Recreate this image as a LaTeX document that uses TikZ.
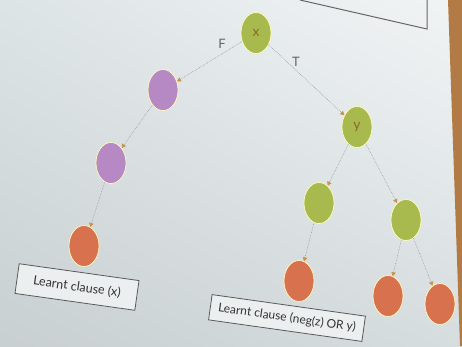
\documentclass[tikz,border=0pt]{standalone}
\usepackage{fontspec}
\setmainfont{Lato}
\usetikzlibrary{shapes.geometric,arrows.meta,shadings}
\definecolor{slidebg}{HTML}{DDE4E6}
\definecolor{wallbrown}{HTML}{B27A45}
\definecolor{decgreen}{HTML}{A8B94E}
\definecolor{decpurple}{HTML}{B688C4}
\definecolor{conflict}{HTML}{D8714E}
\definecolor{tipbrown}{HTML}{C8944A}
\definecolor{varbrown}{HTML}{8A6A2E}

\begin{document}
\begin{tikzpicture}[x=1pt,y=-1pt]
\tikzstyle{vertex}=[
  ellipse,
  draw=white!75!yellow,
  line width=0.7pt,
  minimum width=30pt,
  minimum height=41pt,
  inner sep=0pt,
  text=varbrown,
  font=\fontsize{14}{14}\selectfont ]
\tikzstyle{clause}=[
  rectangle,
  draw=black!65,
  line width=0.8pt,
  fill=white!40!slidebg,
  text=black!80,
  inner xsep=8pt,
  inner ysep=7pt,
  rotate=-8,
  font=\fontsize{12}{13}\selectfont ]
\tikzstyle{branch}=[
  densely dotted,
  draw=black!40,
  line width=0.6pt,
  -{Triangle[length=4pt,width=4.5pt,color=tipbrown]} ]
\tikzstyle{edgelabel}=[text=black!60, font=\fontsize{13}{13}\selectfont]

% background: slide and wall
\useasboundingbox (0,0) rectangle (462,346);
\shade[upper left=slidebg, upper right=white!60!slidebg,
  lower left=black!9!slidebg, lower right=black!3!slidebg]
  (0,0) rectangle (462,346);
\fill[wallbrown] (448,0) -- (462,0) -- (462,346) -- (460,346) -- cycle;
\draw[black!60, line width=1pt] (300,0) -- (427,29) -- (427,0);

% decision tree
\node[vertex, fill=decgreen] (x) at (256,33) {x};
\node[vertex, fill=decpurple] (xf) at (163,90) {};
\node[vertex, fill=decpurple] (xff) at (111,163) {};
\node[vertex, fill=conflict] (xfff) at (84,246) {};
\node[vertex, fill=decgreen] (y) at (357,127) {y};
\node[vertex, fill=decgreen] (yl) at (319,203) {};
\node[vertex, fill=decgreen] (yr) at (406,220) {};
\node[vertex, fill=conflict] (yll) at (299,281) {};
\node[vertex, fill=conflict] (yrl) at (388,296) {};
\node[vertex, fill=conflict] (yrr) at (440,304) {};

\draw[branch] (x) -- (xf);
\draw[branch] (x) -- (y);
\draw[branch] (xf) -- (xff);
\draw[branch] (xff) -- (xfff);
\draw[branch] (y) -- (yl);
\draw[branch] (y) -- (yr);
\draw[branch] (yl) -- (yll);
\draw[branch] (yr) -- (yrl);
\draw[branch] (yr) -- (yrr);

\node[edgelabel] (lf) at (222,44) {F};
\node[edgelabel] (lt) at (296,62) {T};

% learnt clauses
\node[clause, minimum width=121pt, minimum height=30pt,
  font=\fontsize{12.5}{13}\selectfont] (cx) at (77,287) {Learnt clause (x)};
\node[clause] (czy) at (287,318) {Learnt clause (neg(z) OR y)};
\end{tikzpicture}
\end{document}
